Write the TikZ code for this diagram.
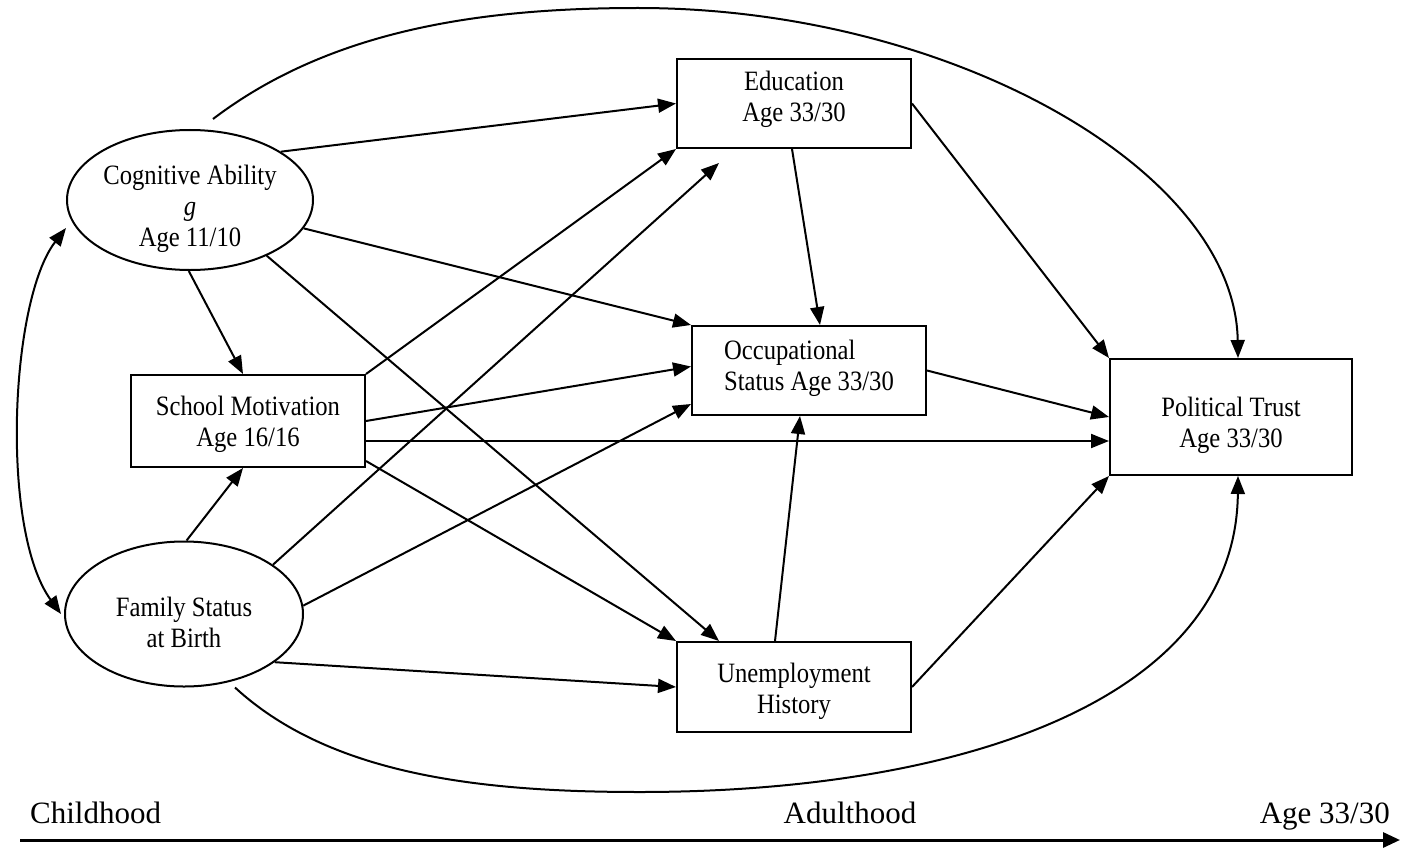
\documentclass[tikz,border=0pt]{standalone}
\usepackage{fontspec}
\setmainfont{Liberation Serif}
\newfontfamily\boxfont[FakeStretch=0.88]{Liberation Serif}
\usetikzlibrary{arrows.meta,shapes.geometric}
\newcommand{\lowtext}[3]{\raisebox{#1}[0pt][0pt]{\begin{tabular}{@{}#2@{}}#3\end{tabular}}}
\begin{document}
\begin{tikzpicture}[x=1pt,y=-1pt,
  every node/.style={font=\boxfont\fontsize{28}{31}\selectfont},
  varbox/.style={draw,line width=2pt,rectangle,inner sep=0pt},
  latent/.style={draw,line width=2pt,ellipse,inner sep=0pt},
  link/.style={line width=2pt,-{Triangle[length=18pt,width=14pt]}},
  twolink/.style={line width=2pt,{Triangle[length=18pt,width=14pt]}-{Triangle[length=18pt,width=14pt]}},
  timeline/.style={line width=3pt,-{Triangle[length=17pt,width=15pt]}},
  timelabel/.style={font=\fontsize{31}{36}\selectfont,inner sep=0pt}]
\useasboundingbox[fill=white] (0,0) rectangle (1402,848);

% nodes
\node[latent,minimum width=246pt,minimum height=140pt] (cog) at (190,200)
  {\lowtext{-16pt}{c}{Cognitive Ability\\ \textit{g}\\ Age 11/10}};
\node[latent,minimum width=238pt,minimum height=145pt] (fam) at (184,614)
  {\lowtext{-18pt}{c}{Family Status\\ at Birth}};
\node[varbox,minimum width=234pt,minimum height=92pt] (school) at (248,421)
  {\lowtext{-10pt}{c}{School Motivation\\ Age 16/16}};
\node[varbox,minimum width=234pt,minimum height=89pt] (edu) at (794,103.5)
  {\lowtext{-3pt}{c}{Education\\ Age 33/30}};
\node[varbox,minimum width=234pt,minimum height=89pt] (occ) at (809,370.5)
  {\lowtext{-5pt}{l}{Occupational\\ Status Age 33/30}};
\node[varbox,minimum width=234pt,minimum height=90pt] (unemp) at (794,687)
  {\lowtext{-11pt}{c}{Unemployment\\ History}};
\node[varbox,minimum width=242pt,minimum height=116pt] (pt) at (1231,417)
  {\lowtext{-15pt}{c}{Political Trust\\ Age 33/30}};

% from cognitive ability
\draw[link] (cog.28) -- (edu.west);
\draw[link] (cog.-14) -- (occ.north west);
\draw[link] (cog.-91) -- ([xshift=-5pt]school.north);
\draw[link] (cog.-36) -- ([xshift=43pt]unemp.north west);

% from school motivation
\draw[link] (school.north east) -- (edu.south west);
\draw[link] (school.east) -- ([yshift=4pt]occ.west);
\draw[link] ([yshift=-20pt]school.east) coordinate (s3) -- (s3 -| pt.west);
\draw[link] ([yshift=7pt]school.south east) -- (unemp.north west);

% from family status
\draw[link] (fam.88) -- ([xshift=-5pt]school.south);
\coordinate (edutip) at ([shift={(43pt,-14pt)}]edu.south west);
\draw[link] (fam.29) -- (edutip);
\draw[link] (fam.4) -- ([yshift=12pt]occ.south west);
\draw[link] (fam.-28) -- (unemp.west);

% adult outcomes
\draw[link] ([xshift=-2pt]edu.south) -- ([xshift=11pt]occ.north);
\draw[link] (edu.east) -- (pt.north west);
\draw[link] (occ.east) -- (pt.west);
\draw[link] ([xshift=-19pt]unemp.north) -- ([xshift=-9pt]occ.south);
\draw[link] (unemp.east) -- (pt.south west);

% curved paths
\coordinate (topstart) at ([shift={(23pt,10pt)}]cog.north);
\draw[link] (topstart) .. controls (330,30) and (480,8) .. (638,8)
  .. controls (950,8) and (1235,170) .. ([xshift=7pt]pt.north);
\coordinate (botstart) at ([xshift=51pt]fam.south);
\draw[link] (botstart) .. controls (330,775) and (480,792) .. (640,792)
  .. controls (960,792) and (1236,700) .. ([xshift=7pt]pt.south);
\draw[twolink] ([yshift=-28pt]cog.west) .. controls (10,300) and (0,530) .. ([xshift=-3pt]fam.west);

% time axis
\node[timelabel,anchor=base west] (child) at (30,823) {Childhood};
\node[timelabel,anchor=base] (adult) at (850,823) {Adulthood};
\node[timelabel,anchor=base east] (age) at (1390,823) {Age 33/30};
\coordinate (axisstart) at (20,840);
\coordinate (axisend) at (1400,840);
\draw[timeline] (axisstart) -- (axisend);
\end{tikzpicture}
\end{document}
